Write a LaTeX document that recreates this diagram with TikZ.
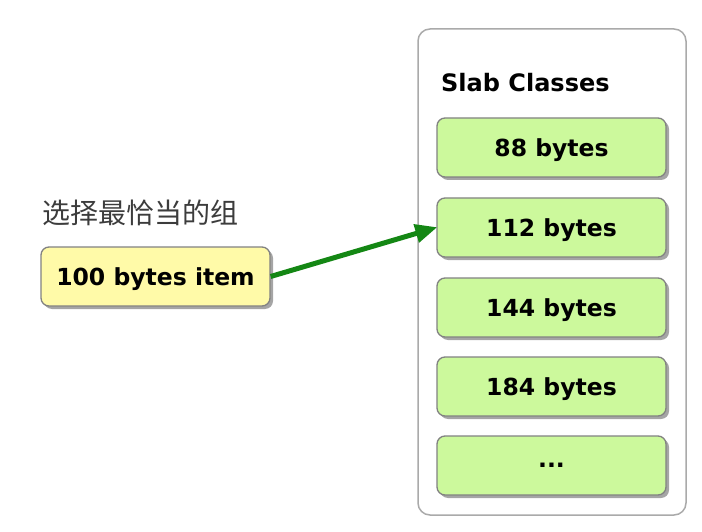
\documentclass[tikz,border=0pt]{standalone}
\usepackage{fontspec}
\setmainfont{DejaVu Sans}
\newfontfamily\cjk{Noto Sans CJK SC}
\usetikzlibrary{arrows.meta,shadows,positioning}
\definecolor{yfill}{RGB}{255,250,168}
\definecolor{gfill}{RGB}{204,249,156}
\definecolor{bordergray}{RGB}{130,130,130}
\definecolor{outergray}{RGB}{170,170,170}
\definecolor{arrowgreen}{RGB}{20,135,20}
\definecolor{cjkgray}{RGB}{60,60,60}
\tikzset{
  boxshadow/.style={drop shadow={shadow xshift=3pt,shadow yshift=-3pt,fill=black!50,opacity=0.7}},
  boxtext/.style={font=\fontsize{23.5}{27}\selectfont\bfseries},
  itembox/.style={draw=bordergray,line width=1.3pt,rounded corners=8pt,fill=yfill,boxshadow,
    minimum width=229pt,minimum height=59pt,inner sep=0pt,boxtext,text depth=-1pt},
  classbox/.style={draw=bordergray,line width=1.3pt,rounded corners=8pt,fill=gfill,boxshadow,
    minimum width=229pt,minimum height=59pt,inner sep=0pt,boxtext,text depth=-1pt},
  container/.style={draw=outergray,line width=1.5pt,rounded corners=12pt,fill=white,
    minimum width=268pt,minimum height=486pt,inner sep=0pt},
  link/.style={arrowgreen,line width=5pt,-{Triangle[length=22pt,width=18pt]},shorten >=-1pt}
}
\begin{document}
\begin{tikzpicture}[x=1pt,y=-1pt]
\useasboundingbox[fill=white] (0,0) rectangle (702,532);
\node[container] (slab) at (552,272) {};
\node[anchor=west,inner sep=0pt,boxtext,font=\fontsize{24}{28}\selectfont\bfseries] (title) at (441,83) {Slab Classes};
\node[classbox] (c88) at (551.5,147.5) {88 bytes};
\node[classbox] (c112) at (551.5,227.5) {112 bytes};
\node[classbox] (c144) at (551.5,307.5) {144 bytes};
\node[classbox] (c184) at (551.5,386.5) {184 bytes};
\node[classbox] (cmore) at (551.5,465.5) {...};
\node[itembox] (item) at (155.5,276.5) {100 bytes item};
\node[anchor=west,inner sep=0pt,text=cjkgray,font=\cjk\fontsize{28}{32}\selectfont] (label) at (42,213) {选择最恰当的组};
\draw[link] (item.east) -- (c112.west);
\end{tikzpicture}
\end{document}
